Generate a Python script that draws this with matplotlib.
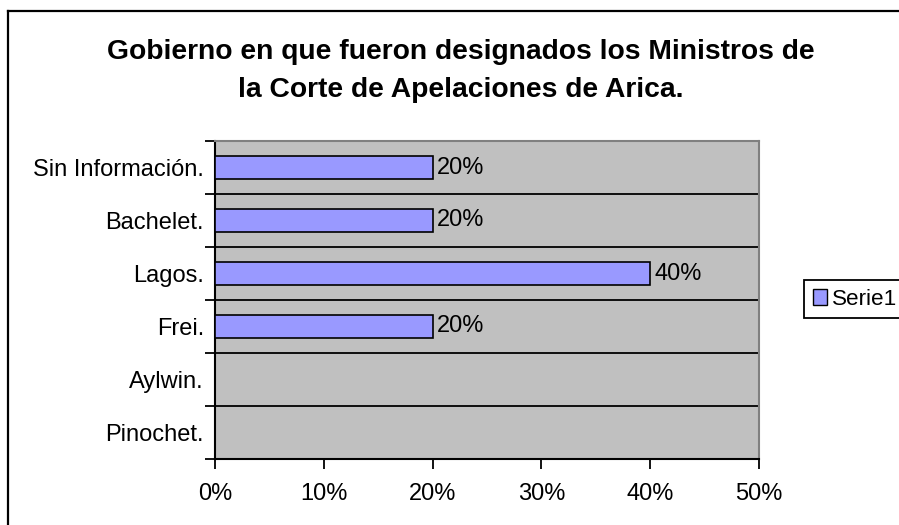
import matplotlib
matplotlib.use("Agg")
import matplotlib.pyplot as plt
from matplotlib.lines import Line2D
from matplotlib.ticker import FixedLocator, FuncFormatter

plt.rcParams['font.family'] = ['Liberation Sans', 'DejaVu Sans']

categories = ["Pinochet.", "Aylwin.", "Frei.", "Lagos.", "Bachelet.", "Sin Información."]
values = [0.0, 0.0, 0.20, 0.40, 0.20, 0.20]
xticks = [0.0, 0.1, 0.2, 0.3, 0.4, 0.5]
series_name = "Serie1"
title = "Gobierno en que fueron designados los Ministros de\nla Corte de Apelaciones de Arica."

W, H = 899, 525
FS = 17
fig = plt.figure(figsize=(W / 100, H / 100), dpi=100)
ax = fig.add_axes([215 / W, 1 - 459 / H, 544 / W, 318 / H])
ax.set_facecolor('#C0C0C0')

n = len(categories)
ypos = list(range(n))
bars = ax.barh(ypos, values, height=0.42, color='#9999FF', edgecolor='black',
               linewidth=1.2, label=series_name, zorder=3)
for y, v in zip(ypos, values):
    if v > 0:
        ax.text(v + 0.004, y, f"{v*100:.0f}%", va='center', ha='left', fontsize=FS, zorder=4)

ax.set_xlim(0, 0.5)
ax.set_ylim(-0.5, n - 0.5)
ax.set_xticks(xticks)
ax.xaxis.set_major_formatter(FuncFormatter(lambda x, p: f"{x*100:.0f}%"))
ax.set_yticks(ypos)
ax.set_yticklabels(categories)
ax.yaxis.set_minor_locator(FixedLocator([i - 0.5 for i in range(n + 1)]))
ax.tick_params(axis='y', which='major', length=0, pad=8, labelsize=FS)
ax.tick_params(axis='y', which='minor', length=7, width=1.3, direction='out')
ax.tick_params(axis='x', which='major', length=7, width=1.3, direction='out', pad=10, labelsize=FS)

for b in [i - 0.5 for i in range(1, n)]:
    ax.axhline(b, color='black', linewidth=1.3, zorder=2)

ax.spines['left'].set_color('black')
ax.spines['left'].set_linewidth(1.5)
ax.spines['bottom'].set_color('black')
ax.spines['bottom'].set_linewidth(1.5)
ax.spines['top'].set_color('#808080')
ax.spines['top'].set_linewidth(1.5)
ax.spines['right'].set_color('#808080')
ax.spines['right'].set_linewidth(1.5)

fig.text(461 / W, 1 - 71 / H, title, ha='center', va='center', fontsize=20.3,
         fontweight='bold', linespacing=1.6)

leg = fig.legend(handles=[bars], labels=[series_name], loc='upper left',
                 bbox_to_anchor=(804 / W, 1 - 280 / H), bbox_transform=fig.transFigure,
                 borderaxespad=0, fancybox=False, framealpha=1, edgecolor='black',
                 fontsize=16.2, handlelength=0.65, handleheight=0.7, handletextpad=0.22,
                 borderpad=0.38)
leg.get_frame().set_linewidth(1.3)
for h in leg.legend_handles:
    h.set_linewidth(1.0)

fig.add_artist(Line2D([8 / W, 8 / W], [0, 1 - 11 / H], transform=fig.transFigure,
                      color='black', linewidth=1.6))
fig.add_artist(Line2D([8 / W, 1], [1 - 11 / H, 1 - 11 / H], transform=fig.transFigure,
                      color='black', linewidth=1.6))

fig.savefig("out.png", dpi=100)
